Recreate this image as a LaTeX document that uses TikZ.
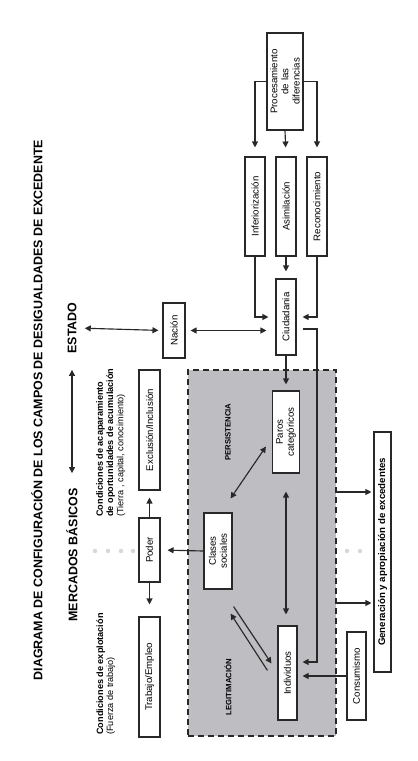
\documentclass[tikz,border=0pt]{standalone}
\usepackage{fontspec}
\setmainfont{Liberation Sans}
\usetikzlibrary{arrows.meta,calc}
\newcommand{\pxu}{0.02cm}
\definecolor{linea}{RGB}{40,40,40}
\definecolor{campogris}{RGB}{190,190,194}
\definecolor{puntos}{RGB}{215,215,218}
\tikzset{
  caja/.style={draw=linea, fill=white, line width=0.65pt, rotate=90, inner sep=0pt, align=center, font=\fontsize{5.5}{6.3}\selectfont},
  rotulo/.style={rotate=90, inner sep=0pt, font=\bfseries\fontsize{7.1}{8}\selectfont},
  nota/.style={rotate=90, inner sep=0pt, align=left, font=\fontsize{5.2}{5.8}\selectfont},
  flecha/.style={-{Triangle[length=3.4pt,width=3.4pt]}, draw=linea, line width=0.65pt},
  doble/.style={{Triangle[length=3.4pt,width=3.4pt]}-{Triangle[length=3.4pt,width=3.4pt]}, draw=linea, line width=0.65pt},
}
\begin{document}
\begin{tikzpicture}[x=0.02cm,y=-0.02cm]
  \useasboundingbox (0,0) rectangle (418,761);
  % campo gris
  \node[draw=linea, fill=campogris, line width=0.65pt, dash pattern=on 3.4pt off 2.3pt,
        minimum width=148*\pxu, minimum height=366*\pxu, inner sep=0pt] (campo) at (262,553) {};
  \foreach \x in {95,108,121,133,347,360}
    \fill[puntos] (\x,551) circle (2.2);
  % titulos
  \node[rotulo] (titulo) at (37,410) {DIAGRAMA DE CONFIGURACIÓN DE LOS CAMPOS DE DESIGUALDADES DE EXCEDENTE};
  \node[rotulo] (mercados) at (72,555) {MERCADOS BÁSICOS};
  \node[rotulo] (estado) at (72,328) {ESTADO};
  \node[nota, anchor=north west] (explot) at (96,735)
    {\textbf{Condiciones de explotación}\\(Fuerza de trabajo)};
  \node[nota, anchor=north west] (acapar) at (96,517)
    {\textbf{Condiciones de acaparamiento}\\\textbf{de oportunidades de acumulación}\\(Tierra , capital, conocimiento)};
  \node[rotate=90, inner sep=0pt, font=\bfseries\fontsize{4.4}{5}\selectfont] (persist) at (228,432) {PERSISTENCIA};
  \node[rotate=90, inner sep=0pt, font=\bfseries\fontsize{4.4}{5}\selectfont] (legit) at (228,687) {LEGITIMACIÓN};
  % cajas
  \node[caja, minimum width=97*\pxu, minimum height=36*\pxu] (proc) at (285,81.5) {Procesamiento\\de las\\diferencias};
  \node[caja, minimum width=99*\pxu, minimum height=20*\pxu] (inf) at (255,206.5) {Inferiorización};
  \node[caja, minimum width=99*\pxu, minimum height=20*\pxu] (asim) at (286,206.5) {Asimilación};
  \node[caja, minimum width=99*\pxu, minimum height=20*\pxu] (recon) at (317,206.5) {Reconocimiento};
  \node[caja, minimum width=76*\pxu, minimum height=20*\pxu] (ciud) at (286,317) {Ciudadania};
  \node[caja, minimum width=55*\pxu, minimum height=22*\pxu] (nacion) at (174,330.5) {Nación};
  \node[caja, minimum width=82*\pxu, minimum height=27*\pxu] (paros) at (286,432) {Paros\\categóricos};
  \node[caja, minimum width=76*\pxu, minimum height=28*\pxu] (clases) at (218,551) {Clases\\sociales};
  \node[caja, minimum width=94*\pxu, minimum height=19*\pxu] (indiv) at (287.5,673) {Individuos};
  \node[caja, minimum width=64*\pxu, minimum height=21*\pxu] (poder) at (149.5,550) {Poder};
  \node[caja, minimum width=120*\pxu, minimum height=21*\pxu] (excl) at (149.5,430) {Exclusión/Inclusión};
  \node[caja, minimum width=120*\pxu, minimum height=21*\pxu] (trabajo) at (149.5,677) {Trabajo/Empleo};
  \node[caja, minimum width=88*\pxu, minimum height=19*\pxu] (consumo) at (356.5,676) {Consumismo};
  \node[caja, minimum width=240*\pxu, minimum height=17*\pxu, font=\bfseries\fontsize{5.5}{6.3}\selectfont] (gen) at (382.5,552) {Generación y apropiación de excedentes};
  % conectores
  \draw[flecha, shorten >=9*\pxu] (proc.north) -| (inf.east);
  \draw[flecha, shorten >=9*\pxu] (proc.west) -- (asim.east);
  \draw[flecha, shorten >=9*\pxu] (proc.south) -| (recon.east);
  \draw[flecha, shorten >=7*\pxu] (inf.west) |- (ciud.north);
  \draw[flecha, shorten >=7*\pxu] (asim.west) -- (ciud.east);
  \draw[flecha, shorten >=6*\pxu] (recon.west) |- (ciud.south);
  \draw[flecha, shorten >=6*\pxu] (ciud.west) -- (paros.east);
  \draw[doble, shorten <=5*\pxu, shorten >=9*\pxu] (nacion.south) -- (nacion.south -| ciud.north);
  \draw[doble, shorten <=8*\pxu, shorten >=4*\pxu] (estado.south) -- (nacion.north);
  \draw[doble, shorten <=16*\pxu, shorten >=15*\pxu] (estado.west) -- (mercados.east);
  \coordinate (ciudout) at ($(ciud.south)+(6,12)$);
  \coordinate (bajada) at (317,662);
  \draw[flecha, shorten >=5*\pxu] (ciudout) -| (bajada) -- (bajada -| indiv.south);
  \draw[flecha, shorten >=7*\pxu] (poder.east) -- (excl.west);
  \draw[flecha, shorten >=12*\pxu] (poder.west) -- (trabajo.east);
  \draw[flecha, shorten >=7*\pxu] (clases.north) -- (poder.south);
  \draw[doble] ($(clases.south east)+(-2,-14)$) -- ($(paros.north west)+(-6,-27)$);
  \draw[doble] ($(paros.west)+(0,18)$) -- ($(indiv.east)+(-1.5,-11)$);
  \draw[flecha] ($(clases.south west)+(1,17)$) -- ($(indiv.north east)+(-6,38)$);
  \draw[flecha] ($(indiv.north east)+(-10,45)$) -- ($(clases.south west)+(-2,24)$);
  \draw[flecha, shorten >=5*\pxu] (consumo.north) -- (consumo.north -| indiv.south);
  \draw[flecha, shorten >=2*\pxu] ([yshift=61*\pxu]campo.east) -- ([yshift=61*\pxu]campo.east -| gen.north);
  \draw[flecha, shorten >=2*\pxu] ([yshift=-50*\pxu]campo.east) -- ([yshift=-50*\pxu]campo.east -| gen.north);
\end{tikzpicture}
\end{document}
